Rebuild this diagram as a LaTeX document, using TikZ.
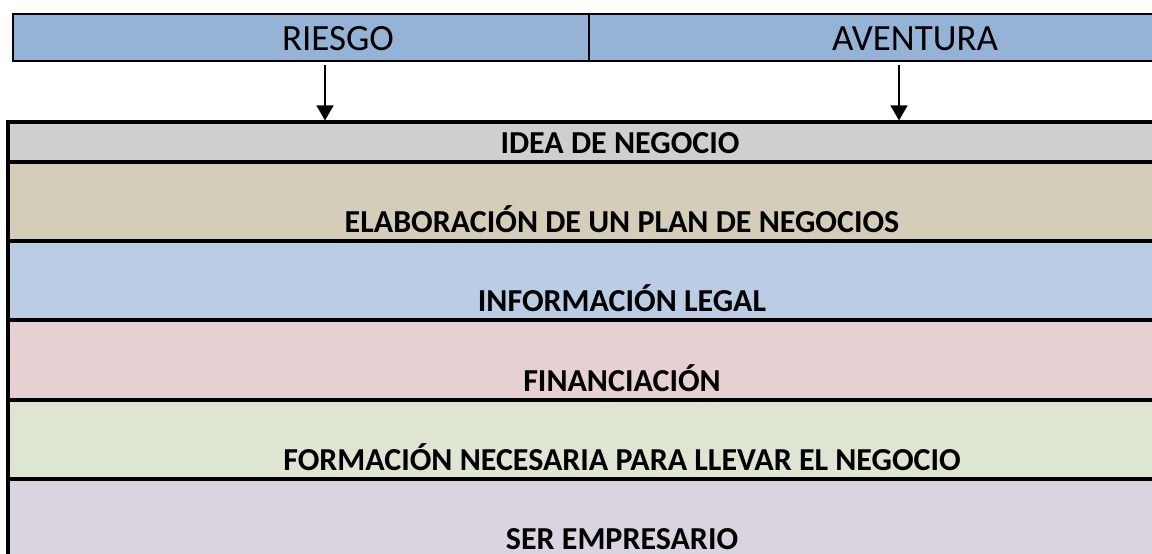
\documentclass[tikz,border=0pt]{standalone}
\usepackage{fontspec}
\setmainfont{Carlito}
\usetikzlibrary{arrows.meta}
\definecolor{topblue}{HTML}{95B3D7}
\definecolor{rgray}{HTML}{CFCFCF}
\definecolor{rtan}{HTML}{D4CDBA}
\definecolor{rblue}{HTML}{BBCDE5}
\definecolor{rpink}{HTML}{E6D0D1}
\definecolor{rgreen}{HTML}{DEE5D3}
\definecolor{rpurple}{HTML}{DAD4E1}
\tikzset{
  topcell/.style={draw=black, line width=2pt, fill=topblue, inner sep=0pt, minimum height=47pt},
  toptext/.style={anchor=base, inner sep=0pt, font=\fontsize{37pt}{42pt}\selectfont},
  row/.style={draw=black, line width=3.2pt, inner sep=0pt, minimum width=1228pt},
  rowtext/.style={anchor=base, inner sep=0pt, font=\fontsize{32pt}{38pt}\selectfont\bfseries},
  arr/.style={line width=1.5pt, -{Triangle[width=17pt,length=15pt]}}
}
\begin{document}
\begin{tikzpicture}[x=1pt,y=-1pt]
\useasboundingbox (0,0) rectangle (1152,554);
\clip (0,0) rectangle (1152,554);
% top bar
\node[topcell, minimum width=576pt] (riesgo) at (301,37.5) {};
\node[topcell, minimum width=652pt] (aventura) at (915,37.5) {};
\node[toptext] (riesgot) at (338,50) {RIESGO};
\node[toptext] (aventurat) at (915,50) {AVENTURA};
% rows
\node[row, fill=rgray, minimum height=40pt] (idea) at (622,142) {};
\node[row, fill=rtan, minimum height=79pt] (plan) at (622,201.5) {};
\node[row, fill=rblue, minimum height=79pt] (legal) at (622,280.5) {};
\node[row, fill=rpink, minimum height=80pt] (fin) at (622,360) {};
\node[row, fill=rgreen, minimum height=79pt] (form) at (622,439.5) {};
\node[row, fill=rpurple, minimum height=80pt] (ser) at (622,519) {};
\node[rowtext] (ideat) at (620,153) {IDEA DE NEGOCIO};
\node[rowtext] (plant) at (622,232) {ELABORACIÓN DE UN PLAN DE NEGOCIOS};
\node[rowtext] (legalt) at (622,311) {INFORMACIÓN LEGAL};
\node[rowtext] (fint) at (622,391) {FINANCIACIÓN};
\node[rowtext] (formt) at (622,470) {FORMACIÓN NECESARIA PARA LLEVAR EL NEGOCIO};
\node[rowtext] (sert) at (622,549) {SER EMPRESARIO};
% arrows
\coordinate (a1) at (325,65);
\coordinate (a2) at (899,65);
\draw[arr] (a1) -- (a1 |- idea.north);
\draw[arr] (a2) -- (a2 |- idea.north);
\end{tikzpicture}
\end{document}
